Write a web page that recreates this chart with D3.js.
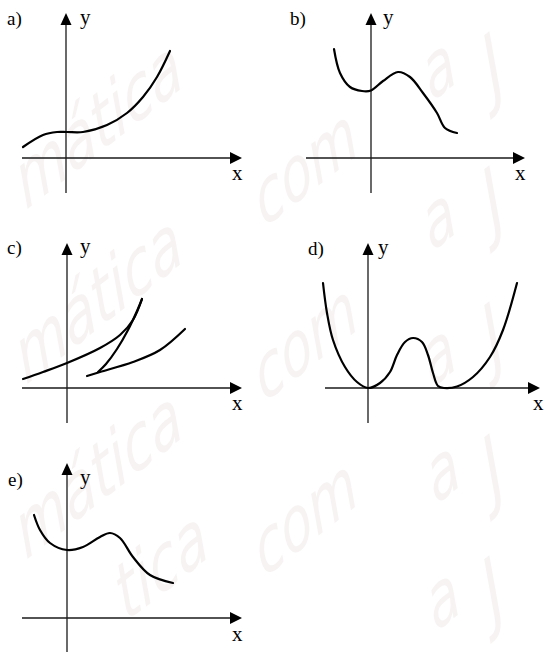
<!DOCTYPE html>
<html>
<head>
<meta charset="utf-8">
<script src="https://cdn.jsdelivr.net/npm/d3@7"></script>
<style>
  html, body { margin: 0; padding: 0; background: #fff; }
  svg { display: block; }
</style>
</head>
<body>
<script>
// Panel names
const panelLabels = ["a)", "b)", "c)", "d)", "e)"];
const axisNames = ["x", "y"];

// Curves, in axis units (origin where the axes cross)
const curveA = [[-4.3,1.1],[-2.3,2.3],[-0.9,2.6],[0.1,2.6],[1.7,2.6],[4.1,3.3],[6.1,4.5],[7.7,6.1],[9.1,8.1],[10.4,10.7]];
const curveB = [[-3.7,10.9],[-3.1,8.5],[-2.1,7.1],[-0.9,6.7],[0,6.75],[1.2,7.7],[2.7,8.6],[3.9,8.1],[5.2,6.5],[6.6,4.5],[7.4,3.0],[8.6,2.5]];
const curveCUpper = [[-4.4,0.9],[-2.4,1.6],[0,2.5],[3.3,4.0],[5.3,5.3],[6.6,6.8],[7.5,8.9]];
const curveCReturn = [[7.5,8.9],[7.0,7.7],[6.1,5.8],[5.0,3.9],[3.9,2.4],[3.1,1.6]];
const curveCLower = [[2.0,1.2],[3.3,1.6],[6.6,2.6],[9.3,3.8],[11.8,5.9]];
const curveD = [[-4.5,10.5],[-4.1,7.5],[-3.5,4.8],[-2.3,2.1],[-1.1,0.6],[0,0],[1.2,0.5],[2.2,1.6],[2.9,3.3],[3.7,4.6],[4.5,5.0],[5.4,4.6],[6.0,3.3],[6.5,1.5],[7.0,0.2],[7.6,0],[8.9,0.15],[10.5,1.1],[12.2,3.1],[13.5,5.8],[14.9,10.5]];
const curveE = [[-3.3,10.3],[-2.7,8.8],[-1.7,7.5],[0,6.8],[1.6,7.1],[3.3,8.1],[4.3,8.5],[5.3,8.0],[6.6,6.1],[8.3,4.3],[10.6,3.5]];

// Axis extents per panel, in axis units
const xExtents = [[-4.4,17.6],[-6.5,15.4],[-4.5,17.5],[-4.3,17.2],[-4.5,17.5]];
const yExtents = [[-3.5,14.5],[-3.5,14.5],[-3.5,14.5],[-3.5,14.5],[-3.4,15.5]];
const panelCurves = [[curveA],[curveB],[curveCUpper,curveCReturn,curveCLower],[curveD],[curveE]];

// Layout (pixels)
const W = 547, H = 655, UNIT = 10;
const layout = [
  {ox: 66,  oy: 158, label: [7, 25],   yl: [80, 24],  xl: [232, 180]},
  {ox: 371, oy: 158, label: [290, 25], yl: [383, 24], xl: [515, 180]},
  {ox: 67,  oy: 388, label: [7, 254],  yl: [80, 253], xl: [232, 410]},
  {ox: 368, oy: 388, label: [308, 255],yl: [378, 254],xl: [533, 410]},
  {ox: 67,  oy: 618, label: [8, 486],  yl: [80, 484], xl: [232, 641]}
];

const SERIF = "'Liberation Serif'";

const svg = d3.select("body").append("svg")
  .attr("width", W).attr("height", H)
  .attr("viewBox", `0 0 ${W} ${H}`);

svg.append("rect").attr("width", W).attr("height", H).attr("fill", "#fff");

// Faint diagonal background lettering
const wmWords = [
  ["mática", 26, 210, 70], ["mática", 26, 385, 70], ["mática", 26, 560, 70], ["tica", 126, 622, 70],
  ["com", 264, 228, 68], ["com", 264, 403, 68], ["com", 264, 578, 68],
  ["a", 432, 102, 68], ["a", 432, 252, 68], ["a", 432, 388, 68], ["a", 436, 505, 68], ["a", 436, 632, 68],
  ["J", 494, 98, 76], ["J", 494, 232, 76], ["J", 494, 368, 76], ["J", 494, 500, 76], ["J", 494, 622, 76]
];
const wm = svg.append("g");
wmWords.forEach(([t, wx, wy, fs]) => {
  wm.append("text")
    .style("font-family", "'DejaVu Sans'")
    .style("font-style", "italic")
    .style("font-size", fs + "px")
    .style("fill", "#f7f3f3")
    .attr("transform", `translate(${wx},${wy}) rotate(-38) skewX(-20) scale(0.85,1)`)
    .text(t);
});

layout.forEach((L, i) => {
  const [x0, x1] = xExtents[i];
  const [y0, y1] = yExtents[i];
  const x = d3.scaleLinear().domain([x0, x1]).range([L.ox + x0 * UNIT, L.ox + x1 * UNIT]);
  const y = d3.scaleLinear().domain([y0, y1]).range([L.oy - y0 * UNIT, L.oy - y1 * UNIT]);
  const g = svg.append("g");

  // axes
  g.append("line")
    .attr("x1", x(x0)).attr("x2", x(x1) - 8)
    .attr("y1", y(0)).attr("y2", y(0))
    .attr("stroke", "#1a1a1a").attr("stroke-width", 1.3);
  g.append("line")
    .attr("x1", x(0)).attr("x2", x(0))
    .attr("y1", y(y0)).attr("y2", y(y1) + 8)
    .attr("stroke", "#1a1a1a").attr("stroke-width", 1.3);

  // arrow heads
  const xt = x(x1), yt = y(0);
  g.append("path")
    .attr("d", `M${xt},${yt} L${xt - 12},${yt - 6} L${xt - 12},${yt + 6} Z`)
    .attr("fill", "#000");
  const xa = x(0), ya = y(y1);
  g.append("path")
    .attr("d", `M${xa},${ya} L${xa - 5.5},${ya + 12} L${xa + 5.5},${ya + 12} Z`)
    .attr("fill", "#000");

  // curves
  const spline = d3.line().x(d => x(d[0])).y(d => y(d[1])).curve(d3.curveCatmullRom.alpha(0.5));
  panelCurves[i].forEach(c => {
    g.append("path")
      .attr("d", spline(c))
      .attr("fill", "none")
      .attr("stroke", "#000")
      .attr("stroke-width", 2.2)
      .attr("stroke-linecap", "round")
      .attr("stroke-linejoin", "round");
  });

  // texts
  const txt = (pos, size, s) => g.append("text")
    .attr("x", pos[0]).attr("y", pos[1])
    .style("font-family", SERIF).style("font-size", size + "px").style("fill", "#000")
    .text(s);
  txt(L.label, 19, panelLabels[i]);
  txt(L.yl, 21, axisNames[1]);
  txt(L.xl, 21, axisNames[0]);
});
</script>
</body>
</html>
